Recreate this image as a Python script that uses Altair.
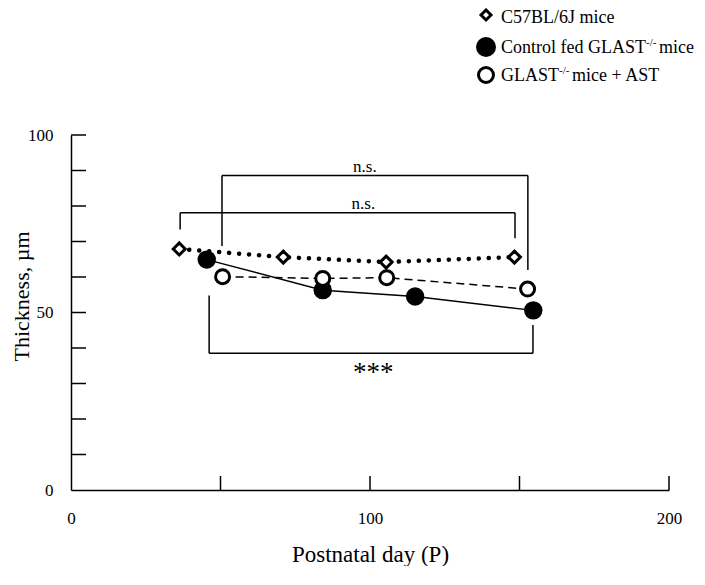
import altair as alt
import pandas as pd

FONT = "Liberation Serif"

# ---- data ----
days_wt = [36.2, 71.0, 105.4, 148.3]
thick_wt = [67.9, 65.6, 64.2, 65.6]

days_ko = [45.4, 84.2, 115.1, 154.6]
thick_ko = [64.9, 56.3, 54.5, 50.6]

days_ast = [50.7, 84.2, 105.6, 152.7]
thick_ast = [60.1, 59.6, 59.8, 56.6]

# significance brackets (segments in data units)
br_x = [50.5, 50.5, 152.8, 36.5, 36.5, 148.5, 46.2, 46.2, 154.5]
br_x2 = [152.8, 50.5, 152.8, 148.5, 36.5, 148.5, 154.5, 46.2, 154.5]
br_y = [88.6, 88.6, 88.6, 78.1, 78.1, 78.1, 38.5, 38.5, 38.5]
br_y2 = [88.6, 68.7, 62.0, 78.1, 73.4, 70.9, 38.5, 54.8, 46.5]

ann_text = ["n.s.", "n.s.", "***"]
ann_x = [98.3, 97.8, 101.1]
ann_y = [89.6, 79.1, 30.8]
ann_size = [17, 17, 27]

y_ticks = [10, 20, 30, 40, 50, 60, 70, 80, 90, 100]
x_ticks = [50, 100, 150, 200]
y_labels = [0, 50, 100]
x_labels = [0, 100, 200]

legend_labels = ["C57BL/6J mice", "Control fed GLAST", "GLAST"]
legend_sup = ["", "-/-", "-/-"]
legend_tail = ["", "mice", "mice + AST"]

# ---- scales / axes ----
xscale = alt.Scale(domain=[0, 200], nice=False, zero=True)
yscale = alt.Scale(domain=[0, 100], nice=False, zero=True)

xaxis = alt.Axis(
    values=x_labels, ticks=False, grid=False, domainColor="black", domainWidth=1.5,
    labelFont=FONT, labelFontSize=17, labelColor="black", labelPadding=20, labelFlush=False,
    title="Postnatal day (P)", titleFont=FONT, titleFontSize=23, titleFontWeight="normal",
    titleColor="black", titleX=299, titleY=71, titleBaseline="alphabetic", titleAlign="center",
)
yaxis = alt.Axis(
    values=y_labels, ticks=False, grid=False, domainColor="black", domainWidth=1.5,
    labelFont=FONT, labelFontSize=17, labelColor="black", labelPadding=18, labelFlush=False,
    title="Thickness, µm", titleFont=FONT, titleFontSize=22, titleFontWeight="normal",
    titleColor="black", titleX=-43, titleY=161, titleBaseline="alphabetic", titleAlign="center",
    titleAngle=270,
)


def X(f):
    return alt.X(f, type="quantitative", scale=xscale, axis=xaxis)


def Y(f):
    return alt.Y(f, type="quantitative", scale=yscale, axis=yaxis)


df_wt = pd.DataFrame({"day": days_wt, "t": thick_wt})
df_ko = pd.DataFrame({"day": days_ko, "t": thick_ko})
df_ast = pd.DataFrame({"day": days_ast, "t": thick_ast})
df_br = pd.DataFrame({"x": br_x, "x2": br_x2, "y": br_y, "y2": br_y2})
df_ann = pd.DataFrame({"txt": ann_text, "x": ann_x, "y": ann_y, "s": ann_size})

PLOT_W = 598
PLOT_H = 355

layers = []

# inward tick marks
layers.append(
    alt.Chart(pd.DataFrame({"v": y_ticks})).mark_rule(color="black", strokeWidth=1.5)
    .encode(y=Y("v"), x=alt.value(0), x2=alt.value(15))
)
layers.append(
    alt.Chart(pd.DataFrame({"v": x_ticks})).mark_rule(color="black", strokeWidth=1.5)
    .encode(x=X("v"), y=alt.value(PLOT_H), y2=alt.value(PLOT_H - 14))
)

# brackets
layers.append(
    alt.Chart(df_br).mark_rule(color="black", strokeWidth=1.5)
    .encode(x=X("x"), x2="x2:Q", y=Y("y"), y2="y2:Q")
)
for i in range(len(ann_text)):
    layers.append(
        alt.Chart(df_ann.iloc[[i]]).mark_text(font=FONT, fontSize=ann_size[i], color="black",
                                              baseline="alphabetic", align="center")
        .encode(x=X("x"), y=Y("y"), text="txt:N")
    )

# lines
layers.append(
    alt.Chart(df_ast).mark_line(color="black", strokeWidth=1.5, strokeDash=[8, 5])
    .encode(x=X("day"), y=Y("t"))
)
layers.append(
    alt.Chart(df_ko).mark_line(color="black", strokeWidth=1.5)
    .encode(x=X("day"), y=Y("t"))
)
layers.append(
    alt.Chart(df_wt).mark_line(color="black", strokeWidth=4.5, strokeDash=[0.1, 9.9], strokeCap="round")
    .encode(x=X("day"), y=Y("t"))
)

# markers
layers.append(
    alt.Chart(df_ko).mark_point(shape="circle", filled=True, color="black", size=340, opacity=1)
    .encode(x=X("day"), y=Y("t"))
)
layers.append(
    alt.Chart(df_ast).mark_point(shape="circle", filled=True, fill="white", stroke="black",
                                 strokeWidth=3, size=196, opacity=1)
    .encode(x=X("day"), y=Y("t"))
)
layers.append(
    alt.Chart(df_wt).mark_point(shape="diamond", filled=True, fill="white", stroke="black",
                                strokeWidth=3, size=144, opacity=1)
    .encode(x=X("day"), y=Y("t"))
)

# manual legend (above the plot area, in pixels)
sym_x = 415
txt_x = 430
row_y = [-120, -88, -60]
base_y = [-112, -82, -54]
legend_marks = [
    dict(shape="diamond", filled=True, fill="white", stroke="black", strokeWidth=3, size=100),
    dict(shape="circle", filled=True, color="black", size=400),
    dict(shape="circle", filled=True, fill="white", stroke="black", strokeWidth=3, size=225),
]
sup_x = [0, 575, 488]
tail_x = [0, 588, 501]
for i in range(3):
    layers.append(
        alt.Chart(pd.DataFrame({"k": [legend_labels[i]]})).mark_point(opacity=1, **legend_marks[i])
        .encode(x=alt.value(sym_x), y=alt.value(row_y[i]))
    )
    layers.append(
        alt.Chart(pd.DataFrame({"k": [legend_labels[i]]}))
        .mark_text(font=FONT, fontSize=18, color="black", align="left", baseline="alphabetic")
        .encode(x=alt.value(txt_x), y=alt.value(base_y[i]), text="k:N")
    )
    if legend_sup[i]:
        layers.append(
            alt.Chart(pd.DataFrame({"k": [legend_sup[i]]}))
            .mark_text(font=FONT, fontSize=11, color="black", align="left", baseline="alphabetic")
            .encode(x=alt.value(sup_x[i]), y=alt.value(base_y[i] - 7), text="k:N")
        )
        layers.append(
            alt.Chart(pd.DataFrame({"k": [legend_tail[i]]}))
            .mark_text(font=FONT, fontSize=18, color="black", align="left", baseline="alphabetic")
            .encode(x=alt.value(tail_x[i]), y=alt.value(base_y[i]), text="k:N")
        )

chart = alt.layer(*layers).properties(
    width=PLOT_W,
    height=PLOT_H,
    autosize=alt.AutoSizeParams(type="none"),
    padding={"left": 63, "top": 127, "right": 28, "bottom": 76},
    background="white",
).configure_view(stroke=None)

chart.save("out.html", embed_options={"renderer": "svg", "actions": False})
